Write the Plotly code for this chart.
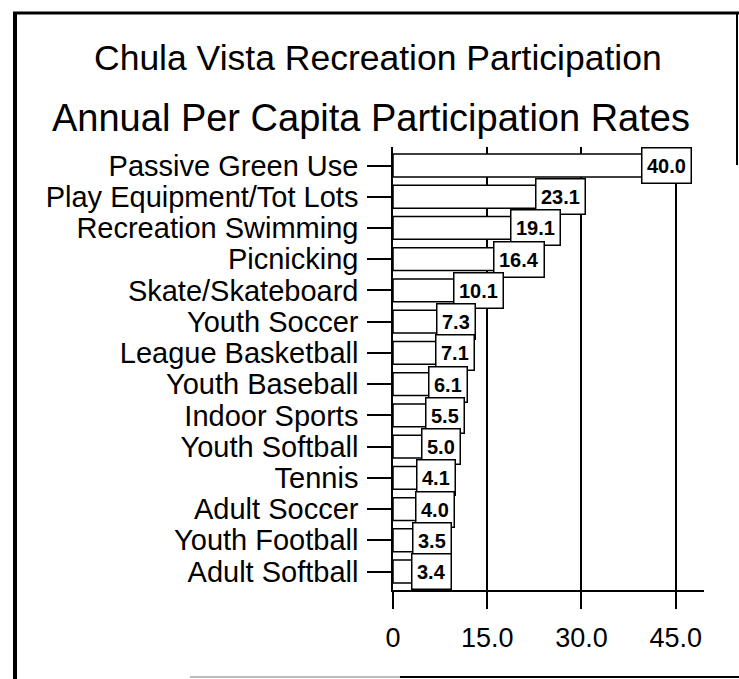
import plotly.graph_objects as go

# Annual per capita participation rates, listed from the top row down
activities = [
    "Passive Green Use", "Play Equipment/Tot Lots", "Recreation Swimming",
    "Picnicking", "Skate/Skateboard", "Youth Soccer", "League Basketball",
    "Youth Baseball", "Indoor Sports", "Youth Softball", "Tennis",
    "Adult Soccer", "Youth Football", "Adult Softball",
]
rates = [40.0, 23.1, 19.1, 16.4, 10.1, 7.3, 7.1, 6.1, 5.5, 5.0, 4.1, 4.0, 3.5, 3.4]

x_ticks = [0, 15, 30, 45]
x_tick_labels = ["0", "15.0", "30.0", "45.0"]

title_line1 = "Chula Vista Recreation Participation"
title_line2 = "Annual Per Capita Participation Rates"

W, H = 739, 679
ML, MR, MT, MB = 393, 35, 147, 89
FONT = "Liberation Sans, Arial, Helvetica, sans-serif"


def px_x(p):
    return (p - ML) / (W - ML - MR)


def px_y(p):
    return (H - MB - p) / (H - MT - MB)


fig = go.Figure()
fig.add_trace(go.Bar(
    x=rates, y=activities, orientation="h",
    marker=dict(color="white", line=dict(color="black", width=1.5)),
    hoverinfo="x+y",
))

# value boxes at the end of each bar
for name, v in zip(activities, rates):
    fig.add_annotation(
        x=v, y=name, text=f"{v:.1f}", showarrow=False,
        xanchor="left", yanchor="middle", xshift=-3,
        font=dict(family=FONT, size=20, color="black", weight="bold"),
        bgcolor="white", bordercolor="black", borderwidth=1.5, borderpad=4.5,
        height=25,
    )

# two-line heading
fig.add_annotation(
    x=px_x(378), y=px_y(58), xref="paper", yref="paper",
    text=title_line1, showarrow=False, xanchor="center", yanchor="middle",
    font=dict(family=FONT, size=35.5, color="black"),
)
fig.add_annotation(
    x=px_x(371), y=px_y(118), xref="paper", yref="paper",
    text=title_line2, showarrow=False, xanchor="center", yanchor="middle",
    font=dict(family=FONT, size=38, color="black"),
)

# page frame
frame = [
    (15, 12, 15, 679, 4, "black"),
    (13, 13, 739, 13, 3, "black"),
    (737, 12, 737, 165, 2, "black"),
    (190, 677, 400, 677, 2, "#bbbbbb"),
    (400, 677, 739, 677, 2, "black"),
]
for x0, y0, x1, y1, w, c in frame:
    fig.add_shape(type="line", xref="paper", yref="paper",
                  x0=px_x(x0), y0=px_y(y0), x1=px_x(x1), y1=px_y(y1),
                  line=dict(color=c, width=w))

fig.update_layout(
    width=W, height=H,
    margin=dict(l=ML, r=MR, t=MT, b=MB, pad=0),
    paper_bgcolor="white", plot_bgcolor="white",
    showlegend=False, bargap=0.27,
    font=dict(family=FONT, color="black"),
)
fig.update_xaxes(
    range=[0, 49.5], tickmode="array", tickvals=x_ticks, ticktext=x_tick_labels,
    showgrid=True, gridcolor="black", gridwidth=1.5,
    showline=True, linecolor="black", linewidth=1.5,
    ticks="outside", ticklen=17, tickwidth=1.5, tickcolor="black",
    tickfont=dict(family=FONT, size=27, color="black"),
    ticklabelstandoff=6, zeroline=False, fixedrange=True,
)
fig.update_yaxes(
    autorange="reversed", tickmode="array", tickvals=activities,
    showgrid=False,
    showline=True, linecolor="black", linewidth=1.5,
    ticks="outside", ticklen=24, tickwidth=1.5, tickcolor="black",
    tickfont=dict(family=FONT, size=29, color="black"),
    ticklabelstandoff=3, fixedrange=True,
)

fig.write_html("out.html", config={"displayModeBar": False})
